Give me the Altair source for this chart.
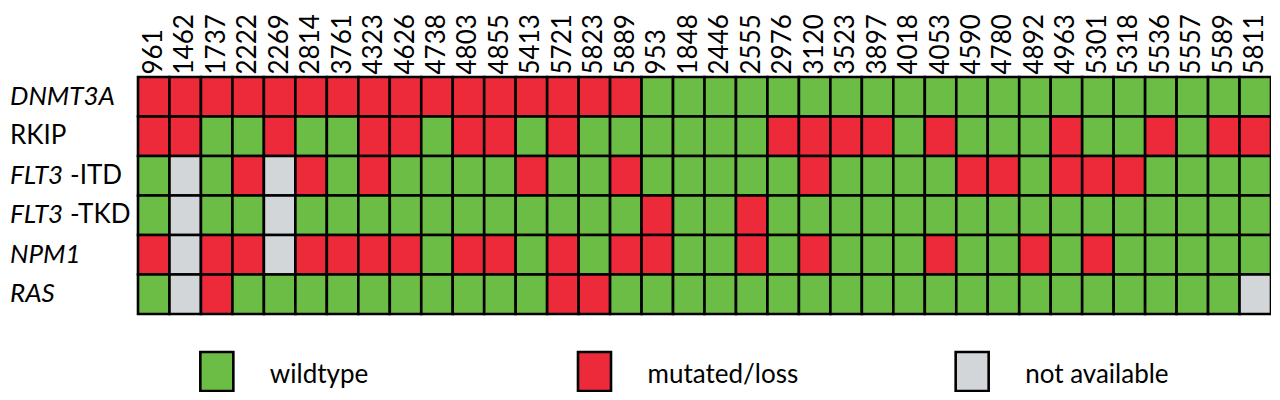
import altair as alt
import pandas as pd

samples = ["961", "1462", "1737", "2222", "2269", "2814", "3761", "4323", "4626",
           "4738", "4803", "4855", "5413", "5721", "5823", "5889", "953", "1848",
           "2446", "2555", "2976", "3120", "3523", "3897", "4018", "4053", "4590",
           "4780", "4892", "4963", "5301", "5318", "5536", "5557", "5589", "5811"]

genes = ["DNMT3A", "RKIP", "FLT3-ITD", "FLT3-TKD", "NPM1", "RAS"]
label_main = ["DNMT3A", "RKIP", "FLT3", "FLT3", "NPM1", "RAS"]
label_italic = [True, False, True, True, True, True]
label_suffix = ["", "", "-ITD", "-TKD", "", ""]

# M = mutated/loss, W = wildtype, N = not available (one letter per sample)
status_codes = {
    "DNMT3A":   "MMMMMMMMMMMMMMMM" + "WWWWWWWWWWWWWWWWWWWW",
    "RKIP":     "MMWWMWWMMWMMWMWW" + "WWWWMMMMWMWWWMWWMWMM",
    "FLT3-ITD": "WNWMNMWMWWWWMWWM" + "WWWWWMWWWWMMWMMMWWWW",
    "FLT3-TKD": "WNWWNWWWWWWWWWWW" + "MWWMWWWWWWWWWWWWWWWW",
    "NPM1":     "MNMMNMMMMWMMWMWM" + "MWWMWMWWWMWWMWMWWWWW",
    "RAS":      "WNMWWWWWWWWWWMMW" + "WWWWWWWWWWWWWWWWWWWN",
}

legend_labels = ["wildtype", "mutated/loss", "not available"]
code_to_label = {"W": "wildtype", "M": "mutated/loss", "N": "not available"}
colors = ["#6cbd45", "#ed2a3a", "#d3d6d8"]

rows = []
for g in genes:
    for s, c in zip(samples, status_codes[g]):
        rows.append({"sample": s, "gene": g, "status": code_to_label[c]})
df = pd.DataFrame(rows)

row_df = pd.DataFrame({"gene": genes, "main": label_main,
                       "italic": label_italic, "suffix": label_suffix})
leg_df = pd.DataFrame({"status": legend_labels})

FONT = "Lato"

color_enc = alt.Color("status:N", scale=alt.Scale(domain=legend_labels, range=colors), legend=None)
y_enc = alt.Y("gene:N", sort=genes, scale=alt.Scale(paddingInner=0, paddingOuter=0), axis=None)

heat = alt.Chart(df).mark_rect(stroke="black", strokeWidth=2.6).encode(
    x=alt.X("sample:N", sort=samples,
            scale=alt.Scale(paddingInner=0, paddingOuter=0),
            axis=alt.Axis(orient="top", title=None, labelAngle=270, labelAlign="left",
                          labelBaseline="middle", labelPadding=3, ticks=False, domain=False,
                          labelFont=FONT, labelFontSize=26, labelColor="black",
                          labelOverlap=False)),
    y=y_enc,
    color=color_enc,
)

row_italic = alt.Chart(row_df).transform_filter("datum.italic").mark_text(
    align="left", baseline="middle", font=FONT, fontSize=26, fontStyle="italic", color="black"
).encode(y=y_enc, x=alt.value(-128), text="main:N")

row_normal = alt.Chart(row_df).transform_filter("!datum.italic").mark_text(
    align="left", baseline="middle", font=FONT, fontSize=26, color="black"
).encode(y=y_enc, x=alt.value(-128), text="main:N")

row_suffix = alt.Chart(row_df).transform_filter("datum.suffix != ''").mark_text(
    align="left", baseline="middle", font=FONT, fontSize=26, color="black"
).encode(y=y_enc, x=alt.value(-68), text="suffix:N")

leg_x = alt.X("status:N", sort=legend_labels,
              scale=alt.Scale(paddingInner=0, paddingOuter=0), axis=None)

leg_sq = alt.Chart(leg_df).mark_bar(width=33, xOffset=-110, stroke="black", strokeWidth=2.6).encode(
    x=leg_x, y=alt.value(275), y2=alt.value(314), color=color_enc
)

leg_txt = alt.Chart(leg_df).mark_text(
    align="left", baseline="alphabetic", xOffset=-57, font=FONT, fontSize=26, color="black"
).encode(x=leg_x, y=alt.value(306), text="status:N")

chart = alt.layer(heat, row_italic, row_normal, row_suffix, leg_sq, leg_txt).resolve_scale(
    x="independent"
).properties(
    width=1133, height=237,
    autosize=alt.AutoSizeParams(type="none"),
    padding={"left": 130, "top": 69, "right": 0, "bottom": 78},
    background="white",
).configure_view(strokeWidth=0)

chart.save("out.html", embed_options={"renderer": "svg", "actions": False})
